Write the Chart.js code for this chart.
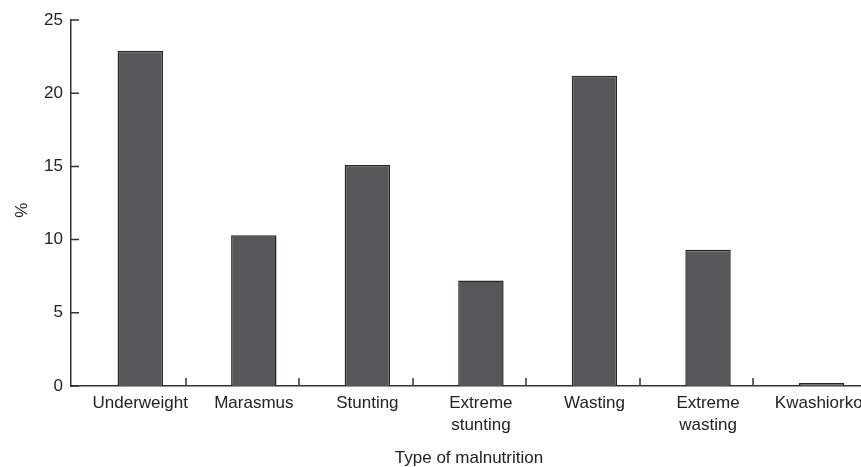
<!DOCTYPE html>
<html>
<head>
<meta charset="utf-8">
<script src="https://cdn.jsdelivr.net/npm/chart.js@4/dist/chart.umd.min.js"></script>
<style>
  html, body { margin: 0; padding: 0; background: #fff; overflow: hidden; }
  canvas { display: block; }
</style>
</head>
<body>
<canvas id="myChart" width="872" height="467"></canvas>
<script>
// categories and values
var categories = ['Underweight', 'Marasmus', 'Stunting', ['Extreme', 'stunting'], 'Wasting', ['Extreme', 'wasting'], 'Kwashiorkor'];
var percent = [22.9, 10.3, 15.1, 7.2, 21.2, 9.3, 0.2];
var yTicks = [0, 5, 10, 15, 20, 25];

const AXIS = '#333333';

// bars sit on integer positions; separators fall a bit right of centre
var points = percent.map(function (v, i) { return { x: i, y: v }; });

// short inward tick marks, like the original figure
const innerTicks = {
    id: 'innerTicks',
    afterDraw(chart) {
        const ctx = chart.ctx, x = chart.scales.x, y = chart.scales.y;
        ctx.save();
        ctx.strokeStyle = AXIS;
        ctx.lineWidth = 1.5;
        ctx.beginPath();
        yTicks.forEach(function (v) {
            const py = y.getPixelForValue(v);
            ctx.moveTo(x.left, py);
            ctx.lineTo(x.left + 8, py);
        });
        for (let i = 0; i < categories.length - 1; i++) {
            const px = Math.round(x.getPixelForValue(i + 0.4));
            ctx.moveTo(px, y.bottom);
            ctx.lineTo(px, y.bottom - 8);
        }
        ctx.stroke();
        ctx.restore();
    }
};

Chart.defaults.font.family = '"Liberation Sans", Arial, sans-serif';
Chart.defaults.font.size = 17;
Chart.defaults.color = '#222';

const GRAPH = document.getElementById('myChart');
const barGraph = new Chart(GRAPH, {
    type: 'bar',
    data: {
        datasets: [{
            data: points,
            backgroundColor: '#56575b',
            borderColor: '#262626',
            borderWidth: 1.5,
            categoryPercentage: 1,
            barPercentage: 0.4
        }]
    },
    options: {
        responsive: false,
        animation: false,
        layout: { padding: { top: 20, right: 5, left: 0, bottom: 0 } },
        plugins: { legend: { display: false }, tooltip: { enabled: false } },
        scales: {
            x: {
                type: 'linear',
                offset: false,
                min: -0.61,
                max: 6.4,
                grid: { display: false, drawTicks: false },
                border: { color: AXIS, width: 1.5 },
                afterBuildTicks: function (s) {
                    s.ticks = categories.map(function (c, i) { return { value: i }; });
                },
                ticks: {
                    padding: 7,
                    maxRotation: 0,
                    autoSkip: false,
                    font: { lineHeight: 1.25 },
                    callback: function (v) { return categories[v]; }
                },
                title: { display: true, text: 'Type of malnutrition', font: { lineHeight: 1 }, padding: { top: 6, bottom: 0 } },
                afterFit: function (s) {
                    s.height = 81;
                    s.paddingLeft = 0;
                    s.paddingRight = 0;
                }
            },
            y: {
                min: 0,
                max: 25,
                grid: { display: false, drawTicks: false },
                border: { color: AXIS, width: 1.5 },
                ticks: { stepSize: 5, padding: 8 },
                title: { display: true, text: '%   ', padding: { top: 12, bottom: 0 } },
                afterFit: function (s) { s.width = 71; }
            }
        }
    },
    plugins: [innerTicks]
});
</script>
</body>
</html>
